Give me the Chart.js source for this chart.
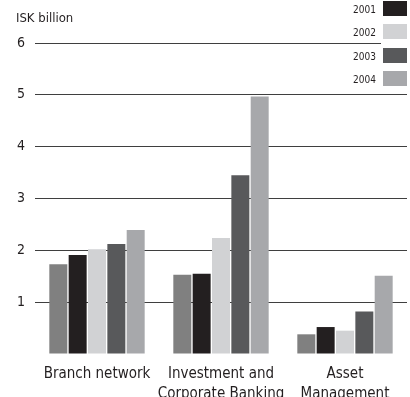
<!DOCTYPE html>
<html>
<head>
<meta charset="utf-8">
<script src="https://cdn.jsdelivr.net/npm/chart.js@4/dist/chart.umd.min.js"></script>
<style>
  html, body { margin: 0; padding: 0; background: #fff; }
  #wrap { width: 410px; height: 397px; position: relative; }
</style>
</head>
<body>
<div id="wrap"><canvas id="grafico"></canvas></div>
<script>
// Profit by division, ISK billion
const divisoes = [['Branch network'], ['Investment and', 'Corporate Banking'], ['Asset', 'Management']];
const anos = ['2000', '2001', '2002', '2003', '2004'];
const valores2000 = [1.73, 1.53, 0.38];
const valores2001 = [1.91, 1.55, 0.52];
const valores2002 = [2.02, 2.24, 0.45];
const valores2003 = [2.12, 3.45, 0.82];
const valores2004 = [2.39, 4.97, 1.51];
const ticksY = [0, 1, 2, 3, 4, 5, 6];

const CORES = ['#808080', '#231f20', '#d1d2d4', '#58595b', '#a7a8ab'];
const FONTE = '"DejaVu Sans Condensed", "DejaVu Sans", sans-serif';

const series = [valores2000, valores2001, valores2002, valores2003, valores2004];

// legenda vertical no canto superior direito (2000 fica fora da tela)
const legendaLateral = {
    id: 'legendaLateral',
    afterDraw(chart) {
        const ctx = chart.ctx;
        ctx.save();
        ctx.fillStyle = '#fff';
        ctx.fillRect(381, 0, 29, 90);
        ctx.font = '10px ' + FONTE;
        ctx.textAlign = 'right';
        ctx.textBaseline = 'alphabetic';
        const topos = [1, 24, 48, 71];
        chart.data.datasets.slice(1).forEach((ds, i) => {
            ctx.fillStyle = ds.backgroundColor;
            ctx.fillRect(383, topos[i], 24, 15);
            ctx.fillStyle = '#231f20';
            ctx.fillText(ds.label, 376, topos[i] + 12);
        });
        // unidade do eixo y
        ctx.font = '13px ' + FONTE;
        ctx.textAlign = 'left';
        ctx.fillText('ISK billion', 16, 22);
        ctx.restore();
    }
};

new Chart(document.getElementById('grafico'), {
    type: 'bar',
    data: {
        labels: divisoes,
        datasets: anos.map((ano, i) => ({
            label: ano,
            data: series[i],
            backgroundColor: CORES[i],
            borderWidth: 0,
            categoryPercentage: 0.78,
            barPercentage: 0.93
        }))
    },
    options: {
        responsive: true,
        maintainAspectRatio: false,
        animation: false,
        layout: {
            padding: { top: 43, right: 3, left: 0, bottom: 0 }
        },
        plugins: {
            legend: { display: false },
            tooltip: { enabled: false }
        },
        scales: {
            x: {
                grid: { display: false },
                border: { display: false },
                ticks: {
                    color: '#231f20',
                    padding: 2,
                    maxRotation: 0,
                    autoSkip: false,
                    font: { family: FONTE, size: 15, lineHeight: '20px' }
                },
                afterFit: (scale) => { scale.height = 43; }
            },
            y: {
                min: 0,
                max: 6,
                afterBuildTicks: (scale) => {
                    scale.ticks = ticksY.map(v => ({ value: v }));
                },
                grid: {
                    drawTicks: false,
                    color: (c) => c.tick && c.tick.value === 0 ? 'rgba(0,0,0,0)' : '#3f3f3f',
                    lineWidth: 1
                },
                border: { display: false },
                ticks: {
                    color: '#231f20',
                    padding: 10,
                    font: { family: FONTE, size: 14 },
                    callback: (v) => v === 0 ? '' : v
                },
                afterFit: (scale) => { scale.width = 35; }
            }
        }
    },
    plugins: [legendaLateral]
});
</script>
</body>
</html>
